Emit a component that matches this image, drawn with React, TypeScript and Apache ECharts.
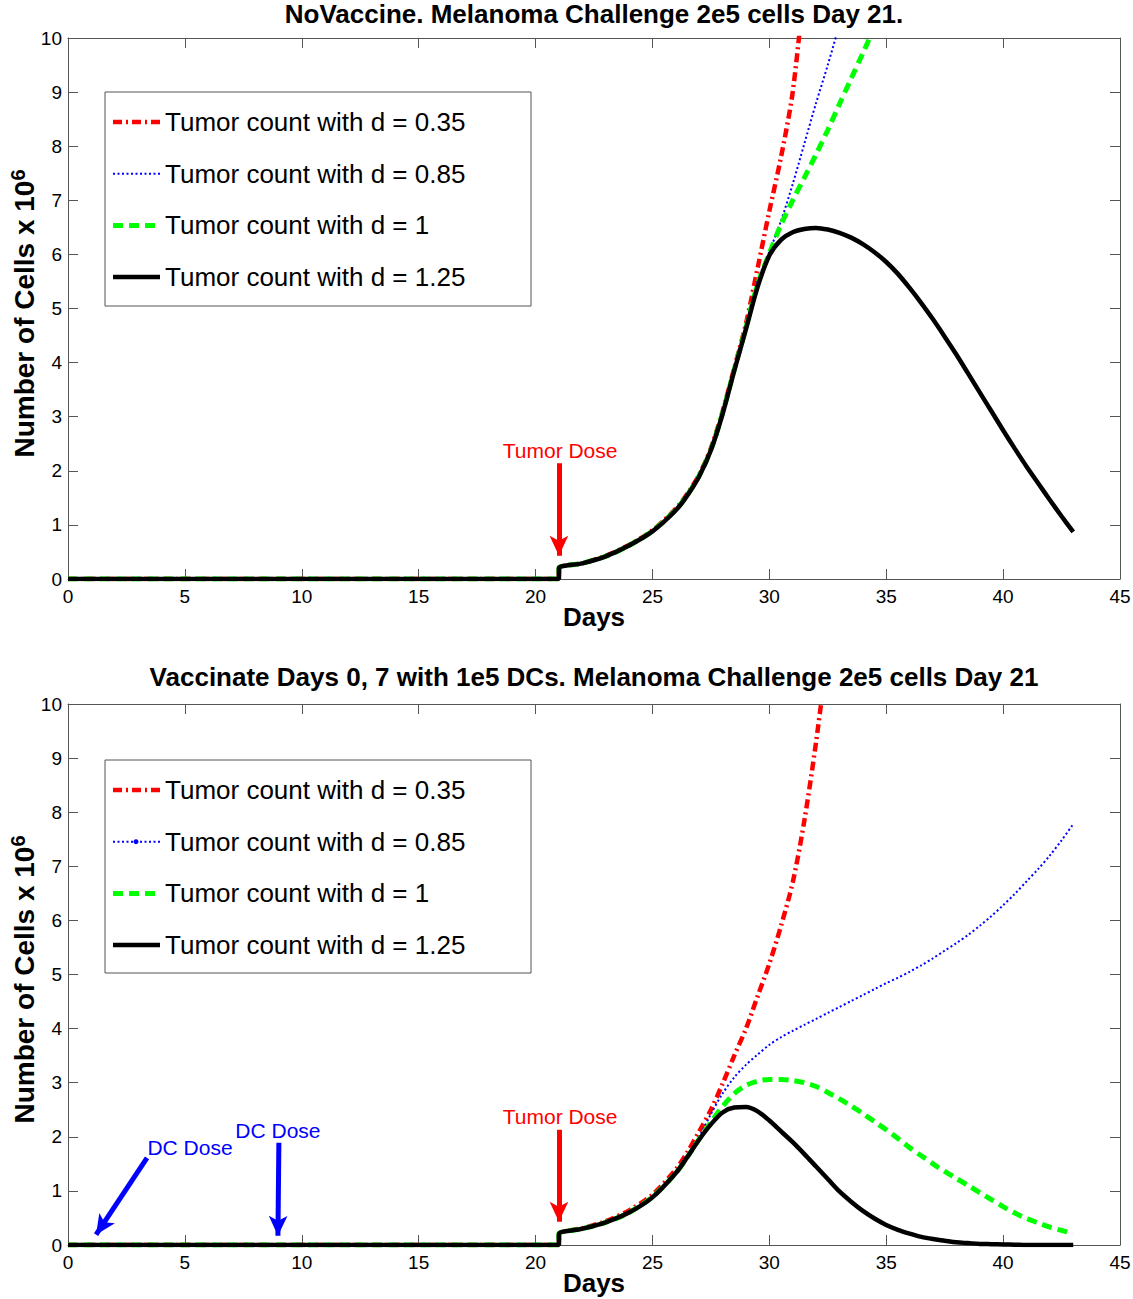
import React, { useEffect, useRef } from "react";
import * as echarts from "echarts";

const FONT = '"Liberation Sans", Arial, Helvetica, sans-serif';

// ---------- data ----------
const legendNames = [
  "Tumor count with d = 0.35",
  "Tumor count with d = 0.85",
  "Tumor count with d = 1",
  "Tumor count with d = 1.25",
];
const lineColors = ["#ff0000", "#0000ff", "#00ff00", "#000000"];

const topTitle = "NoVaccine. Melanoma Challenge 2e5 cells Day 21.";
const bottomTitle = "Vaccinate Days 0, 7 with 1e5 DCs. Melanoma Challenge 2e5 cells Day 21";
const xName = "Days";

const days = [0, 21, 21, 22, 23, 24, 25, 26, 26.5, 27, 27.5, 28, 28.5, 29, 29.5, 30, 30.5, 31, 31.5, 32, 32.5, 33, 33.5, 34, 34.5, 35, 35.5, 36, 36.5, 37, 37.5, 38, 38.5, 39, 39.5, 40, 40.5, 41, 41.5, 42, 42.5, 43];

const topD035 = [0, 0, 0.2, 0.29, 0.43, 0.63, 0.9, 1.3, 1.58, 1.93, 2.42, 3.1, 3.9, 4.72, 5.75, 6.8, 7.8, 9.0, 11.0, null, null, null, null, null, null, null, null, null, null, null, null, null, null, null, null, null, null, null, null, null, null, null];
const topD085 = [0, 0, 0.2, 0.29, 0.43, 0.63, 0.89, 1.29, 1.57, 1.92, 2.4, 3.08, 3.88, 4.68, 5.5, 6.05, 6.62, 7.3, 8.05, 8.8, 9.5, 10.25, null, null, null, null, null, null, null, null, null, null, null, null, null, null, null, null, null, null, null, null];
const topD1 = [0, 0, 0.2, 0.29, 0.42, 0.62, 0.89, 1.28, 1.56, 1.91, 2.39, 3.07, 3.87, 4.65, 5.45, 6.02, 6.55, 7.0, 7.42, 7.85, 8.3, 8.78, 9.25, 9.72, 10.2, null, null, null, null, null, null, null, null, null, null, null, null, null, null, null, null, null];
const topD125 = [0, 0, 0.2, 0.29, 0.42, 0.62, 0.88, 1.27, 1.55, 1.9, 2.38, 3.05, 3.85, 4.62, 5.4, 5.98, 6.27, 6.41, 6.47, 6.49, 6.46, 6.4, 6.31, 6.19, 6.04, 5.86, 5.64, 5.38, 5.1, 4.8, 4.48, 4.15, 3.8, 3.45, 3.1, 2.75, 2.41, 2.08, 1.77, 1.46, 1.16, 0.87];

const botD035 = [0, 0, 0.2, 0.31, 0.44, 0.64, 0.93, 1.4, 1.72, 2.1, 2.5, 2.98, 3.5, 4.0, 4.6, 5.2, 5.9, 6.7, 7.85, 9.3, 11.0, null, null, null, null, null, null, null, null, null, null, null, null, null, null, null, null, null, null, null, null, null];
const botD085 = [0, 0, 0.2, 0.3, 0.43, 0.61, 0.9, 1.34, 1.65, 2.0, 2.42, 2.8, 3.1, 3.33, 3.52, 3.7, 3.84, 3.96, 4.07, 4.18, 4.29, 4.4, 4.51, 4.62, 4.73, 4.84, 4.94, 5.05, 5.17, 5.3, 5.44, 5.58, 5.73, 5.9, 6.08, 6.28, 6.49, 6.72, 6.95, 7.2, 7.48, 7.78];
const botD1 = [0, 0, 0.2, 0.3, 0.42, 0.6, 0.89, 1.33, 1.63, 1.96, 2.27, 2.56, 2.8, 2.95, 3.03, 3.06, 3.06, 3.04, 3.0, 2.93, 2.82, 2.7, 2.57, 2.43, 2.28, 2.13, 1.97, 1.8, 1.65, 1.5, 1.36, 1.23, 1.1, 0.97, 0.84, 0.71, 0.59, 0.49, 0.41, 0.33, 0.27, 0.21];
const botD125 = [0, 0, 0.2, 0.3, 0.42, 0.6, 0.88, 1.33, 1.63, 1.95, 2.23, 2.45, 2.54, 2.55, 2.47, 2.3, 2.1, 1.9, 1.68, 1.45, 1.22, 0.99, 0.8, 0.63, 0.49, 0.37, 0.28, 0.21, 0.15, 0.11, 0.08, 0.05, 0.035, 0.02, 0.015, 0.01, 0.005, 0, 0, 0, 0, 0];

// annotations (data coordinates)
const topArrows = [{ from: [21, 2.14], to: [21, 0.43], color: "#ff0000" }];
const botArrows = [
  { from: [21, 2.13], to: [21, 0.43], color: "#ff0000" },
  { from: [3.38, 1.61], to: [1.2, 0.19], color: "#0000ff" },
  { from: [9.02, 1.89], to: [8.98, 0.17], color: "#0000ff" },
];
const topNotes = [{ text: "Tumor Dose", at: [21.05, 2.37], color: "#ff0000" }];
const botNotes = [
  { text: "Tumor Dose", at: [21.05, 2.37], color: "#ff0000" },
  { text: "DC Dose", at: [5.22, 1.81], color: "#0000ff" },
  { text: "DC Dose", at: [8.98, 2.11], color: "#0000ff" },
];

// ---------- styles ----------
const lineTypes: any[] = [[9, 4, 2, 4], [2, 2.5], [10, 6], "solid"];
const lineWidths = [4.5, 2, 5, 4.5];
const AXIS_COLOR = "#555";

const grids = [
  { left: 68, top: 38, width: 1052, height: 541 },
  { left: 68, top: 704, width: 1052, height: 541 },
];
const legendBoxes = [
  { x: 105, y: 92, w: 426, h: 214, blueDot: false },
  { x: 105, y: 760, w: 426, h: 213, blueDot: true },
];

function buildOption() {
  const xAxis: any[] = [];
  const yAxis: any[] = [];
  grids.forEach((_, gi) => {
    const line = { show: true, onZero: false, lineStyle: { color: AXIS_COLOR, width: 1 } };
    const tick = { show: true, inside: true, length: 10, lineStyle: { color: AXIS_COLOR, width: 1 } };
    xAxis.push({
      type: "value", gridIndex: gi, min: 0, max: 45, interval: 5, position: "bottom",
      axisLine: line, axisTick: tick, splitLine: { show: false },
      axisLabel: { show: true, color: "#000", fontSize: 19, fontFamily: FONT, margin: 8 },
      name: xName, nameLocation: "middle", nameGap: 27, nameMoveOverlap: false,
      nameTextStyle: { fontSize: 26, fontWeight: "bold", color: "#000", fontFamily: FONT, lineHeight: 22 },
    });
    xAxis.push({
      type: "value", gridIndex: gi, min: 0, max: 45, interval: 5, position: "top",
      axisLine: line, axisTick: tick, splitLine: { show: false }, axisLabel: { show: false },
    });
    yAxis.push({
      type: "value", gridIndex: gi, min: 0, max: 10, interval: 1, position: "left",
      axisLine: line, axisTick: tick, splitLine: { show: false },
      axisLabel: { show: true, color: "#000", fontSize: 19, fontFamily: FONT, margin: 6 },
      name: "{a|Number of Cells x 10}{b|6}", nameLocation: "middle", nameGap: 30, nameMoveOverlap: false,
      nameTextStyle: {
        padding: [0, 10, 0, 0],
        rich: {
          a: { fontSize: 28, fontWeight: "bold", color: "#000", fontFamily: FONT, lineHeight: 30, verticalAlign: "bottom" },
          b: { fontSize: 20, fontWeight: "bold", color: "#000", fontFamily: FONT, lineHeight: 14, verticalAlign: "top" },
        },
      },
    });
    yAxis.push({
      type: "value", gridIndex: gi, min: 0, max: 10, interval: 1, position: "right",
      axisLine: line, axisTick: tick, splitLine: { show: false }, axisLabel: { show: false },
    });
  });

  const panels = [
    { vals: [topD035, topD085, topD1, topD125], arrows: topArrows, notes: topNotes },
    { vals: [botD035, botD085, botD1, botD125], arrows: botArrows, notes: botNotes },
  ];

  const series: any[] = [];
  panels.forEach((p, gi) => {
    p.vals.forEach((vals, si) => {
      const s: any = {
        type: "line",
        name: legendNames[si] + " " + gi,
        xAxisIndex: gi * 2,
        yAxisIndex: gi * 2,
        data: days.map((d, k) => [d, vals[k]]),
        showSymbol: false,
        symbol: "none",
        smooth: 0.3,
        connectNulls: false,
        clip: true,
        lineStyle: { color: lineColors[si], width: lineWidths[si], type: lineTypes[si], cap: "butt" },
        itemStyle: { color: lineColors[si] },
        emphasis: { disabled: true },
        silent: true,
        z: 2 + si,
      };
      if (si === 3) {
        s.markLine = {
          silent: true,
          symbol: ["none", "arrow"],
          symbolSize: [14, 20],
          label: { show: false },
          emphasis: { disabled: true },
          lineStyle: { width: 5, type: "solid" },
          data: p.arrows.map((a) => [
            { coord: a.from, lineStyle: { color: a.color, width: 5, type: "solid" }, itemStyle: { color: a.color } },
            { coord: a.to },
          ]),
        };
        s.markPoint = {
          silent: true,
          symbol: "circle",
          symbolSize: 1,
          itemStyle: { color: "rgba(0,0,0,0)" },
          label: { show: true, position: "inside", formatter: "{b}", fontSize: 21, fontFamily: FONT },
          data: p.notes.map((n) => ({
            name: n.text,
            coord: n.at,
            label: { color: n.color },
          })),
        };
      }
      series.push(s);
    });
  });

  const graphic: any[] = [];
  const titles = [topTitle, bottomTitle];
  const titleY = [14, 677];
  titles.forEach((t, i) => {
    graphic.push({
      type: "text",
      x: 594,
      y: titleY[i],
      z: 100,
      style: {
        text: t, fill: "#000", font: `bold 26px ${FONT}`, lineHeight: 22,
        textAlign: "center", textVerticalAlign: "middle", align: "center", verticalAlign: "middle",
      },
    });
  });
  legendBoxes.forEach((b) => {
    graphic.push({
      type: "rect", z: 100,
      shape: { x: b.x, y: b.y, width: b.w, height: b.h },
      style: { fill: "#fff", stroke: AXIS_COLOR, lineWidth: 1 },
    });
    legendNames.forEach((n, i) => {
      const y = b.y + 30 + i * 51.7;
      const lt = lineTypes[i];
      graphic.push({
        type: "line", z: 101,
        shape: { x1: b.x + 8, y1: y, x2: b.x + 55, y2: y },
        style: {
          stroke: lineColors[i], lineWidth: lineWidths[i],
          lineDash: Array.isArray(lt) ? lt : null, lineCap: "butt",
        },
      });
      if (b.blueDot && i === 1) {
        graphic.push({
          type: "circle", z: 102,
          shape: { cx: b.x + 31, cy: y, r: 2.5 },
          style: { fill: lineColors[i] },
        });
      }
      graphic.push({
        type: "text", z: 101, x: b.x + 60, y,
        style: {
          text: n, fill: "#000", font: `26px ${FONT}`,
          textAlign: "left", textVerticalAlign: "middle", align: "left", verticalAlign: "middle",
        },
      });
    });
  });

  return {
    animation: false,
    backgroundColor: "#fff",
    textStyle: { fontFamily: FONT },
    grid: grids.map((g) => ({ ...g, containLabel: false, outerBoundsMode: "none" })),
    xAxis,
    yAxis,
    series,
    graphic,
  };
}

export default function App() {
  const ref = useRef<HTMLDivElement>(null);
  useEffect(() => {
    if (!ref.current) return;
    const chart = echarts.init(ref.current, undefined, { renderer: "svg" });
    chart.setOption(buildOption() as any);
    return () => chart.dispose();
  }, []);
  return (
    <div
      ref={ref}
      style={{ position: "absolute", left: 0, top: 0, width: 1133, height: 1299, background: "#fff" }}
    />
  );
}
